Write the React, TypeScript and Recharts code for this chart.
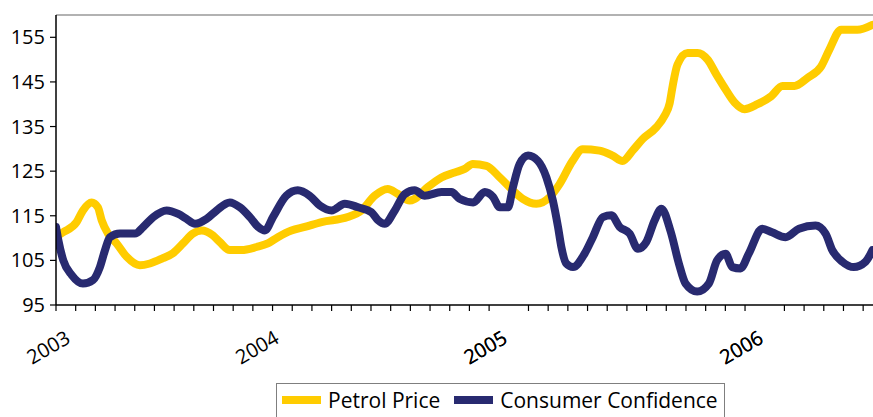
import { LineChart, Line, XAxis, YAxis, ReferenceLine, Legend } from "recharts";

// x positions are in months from the first tick (Jan 2003)
const petrolMonths = [
  0, 0.36, 1.05, 1.37, 1.81, 2.13, 2.32, 2.64, 3.08, 3.59, 4.26, 4.77, 5.43, 5.94, 6.45, 6.95,
  7.4, 7.97, 8.32, 8.83, 9.43, 10.19, 10.76, 11.27, 11.96, 12.64, 13.49, 14.82, 15.52, 16.19,
  16.85, 17.36, 17.97, 18.22, 18.88, 19.58, 20.25, 20.76, 21.17, 21.86, 22.54, 23.2, 23.71,
  24.4, 25.08, 25.58, 26.24, 26.75, 27.61, 28.27, 28.78, 29.29, 29.8, 30.49, 30.91, 31.17,
  31.32, 31.57, 32.08, 32.59, 33.1, 33.54, 33.96, 34.47, 34.97, 35.63, 36.33, 36.9, 37.51,
  38.17, 38.87, 39.29, 39.88, 40.71, 41.47,
];
const petrolPrice = [
  110.3, 111.3, 113.6, 116.2, 118.0, 116.9, 114.0, 111.0, 108.8, 105.8, 103.9, 104.3, 105.5,
  106.6, 108.8, 111.0, 111.7, 110.6, 109.1, 107.3, 107.3, 108.0, 108.8, 110.2, 111.7, 112.5,
  113.6, 114.7, 116.2, 119.5, 121.0, 119.9, 118.4, 118.8, 121.4, 123.6, 124.7, 125.5, 126.6,
  126.2, 123.6, 120.7, 118.8, 117.7, 119.2, 122.1, 127.3, 129.9, 129.6, 128.5, 127.3, 129.6,
  132.2, 134.8, 137.4, 140.2, 144.0, 148.9, 151.5, 151.5, 150.0, 146.7, 143.7, 140.4, 138.9,
  140.0, 141.8, 144.1, 144.1, 145.9, 148.5, 152.3, 156.7, 156.7, 157.8,
];

const confidenceMonths = [
  0, 0.12, 0.37, 0.8, 1.37, 1.88, 2.23, 2.49, 2.74, 3.25, 4.01, 4.43, 4.94, 5.62, 6.21, 6.63,
  7.06, 7.65, 8.16, 8.83, 9.34, 9.85, 10.27, 10.61, 11.02, 11.7, 12.28, 12.88, 13.4, 14.0,
  14.67, 15.35, 16.02, 16.36, 16.7, 17.21, 17.72, 18.22, 18.73, 19.58, 20.09, 20.5, 21.19,
  21.78, 22.2, 22.54, 22.96, 23.21, 23.55, 23.98, 24.48, 24.91, 25.24, 25.5, 25.67, 25.92,
  26.26, 26.85, 27.27, 27.78, 28.21, 28.63, 29.14, 29.56, 29.98, 30.41, 30.75, 31.22, 31.64,
  31.98, 32.57, 33.16, 33.58, 34.01, 34.35, 34.77, 35.19, 35.87, 36.37, 37.06, 37.74, 38.58,
  39.09, 39.43, 39.94, 40.52, 41.12, 41.47,
];
const confidenceIndex = [
  112.5, 109.5, 105.0, 101.7, 99.8, 100.6, 103.5, 107.3, 110.2, 111.0, 111.0, 112.5, 114.7,
  116.2, 115.4, 114.3, 113.2, 114.3, 116.2, 118.0, 116.9, 114.7, 112.5, 111.7, 114.7, 119.5,
  120.7, 119.5, 117.3, 116.2, 117.7, 116.9, 115.8, 114.0, 113.2, 116.2, 119.9, 120.7, 119.5,
  120.3, 120.3, 118.8, 118.0, 120.3, 119.2, 116.9, 116.9, 121.4, 126.6, 128.5, 127.3, 123.6,
  118.4, 112.5, 108.0, 104.3, 103.5, 106.5, 110.2, 114.7, 115.1, 112.5, 111.0, 107.6, 109.1,
  114.0, 116.6, 111.5, 104.3, 99.8, 98.0, 99.8, 105.0, 106.5, 103.5, 103.2, 106.5, 112.1,
  111.3, 110.2, 112.1, 112.8, 111.0, 107.3, 104.7, 103.5, 104.7, 107.3,
];

const seriesNames = ["Petrol Price", "Consumer Confidence"];
const yearLabels = ["2003", "2004", "2005", "2006"];
const yearLabelMonths = [0.8, 11.4, 23.0, 36.0];
const valueTicks = [95, 105, 115, 125, 135, 145, 155];
const monthTicks = Array.from({ length: 42 }, (_, i) => i);

const petrolData = petrolMonths.map((m, i) => ({ m, v: petrolPrice[i] }));
const confidenceData = confidenceMonths.map((m, i) => ({ m, v: confidenceIndex[i] }));

const FONT = "'Open Sans', sans-serif";

// one axis carries both the monthly tick marks and the rotated year labels
const MonthTick = ({ x, y, payload }: any) => {
  const yi = yearLabelMonths.indexOf(payload.value);
  if (yi >= 0) {
    const ty = y + 37;
    return (
      <text
        x={x}
        y={ty}
        textAnchor="end"
        transform={`rotate(-30, ${x}, ${ty})`}
        fontSize={20}
        fontFamily={FONT}
        fill="#000"
      >
        {yearLabels[yi]}
      </text>
    );
  }
  return <line x1={x} x2={x} y1={y} y2={y + 6} stroke="#000" strokeWidth={1.2} />;
};

const renderLegend = (props: any) => {
  const items = [...(props.payload || [])].sort(
    (a: any, b: any) => seriesNames.indexOf(a.value) - seriesNames.indexOf(b.value)
  );
  return (
    <div
      style={{
        boxSizing: "border-box",
        width: "100%",
        height: "100%",
        border: "1px solid #7f7f7f",
        background: "#fff",
        display: "flex",
        alignItems: "flex-start",
        paddingLeft: 5,
        paddingTop: 1,
        fontFamily: FONT,
        fontSize: 21,
        color: "#000",
      }}
    >
      {items.map((item: any, i: number) => (
        <div
          key={item.value}
          style={{ display: "flex", alignItems: "center", height: 30, marginLeft: i === 0 ? 0 : 14 }}
        >
          <div style={{ width: 39, height: 8, background: item.color, marginRight: 7 }} />
          <span style={{ lineHeight: "30px", whiteSpace: "nowrap" }}>{item.value}</span>
        </div>
      ))}
    </div>
  );
};

export default function App() {
  return (
    <div style={{ position: "absolute", left: 0, top: 0, background: "#fff" }}>
      <LineChart width={873} height={417} margin={{ top: 15, right: 0, left: 0, bottom: 44 }}>
        <XAxis
          xAxisId="months"
          type="number"
          dataKey="m"
          domain={[0, 41.5]}
          ticks={[...monthTicks, ...yearLabelMonths]}
          interval={0}
          tick={<MonthTick />}
          tickLine={false}
          tickSize={0}
          tickMargin={0}
          height={68}
          allowDataOverflow
          axisLine={{ stroke: "#000", strokeWidth: 1.5 }}
        />
        <YAxis
          type="number"
          domain={[95, 160]}
          ticks={valueTicks}
          width={56}
          interval={0}
          tickSize={6}
          tickMargin={5}
          allowDataOverflow
          axisLine={{ stroke: "#000", strokeWidth: 1.5 }}
          tickLine={{ stroke: "#000", strokeWidth: 1.2 }}
          tick={{ fill: "#000", fontSize: 20, fontFamily: FONT }}
        />
        <ReferenceLine xAxisId="months" y={160} stroke="#999" strokeWidth={1.5} />
        <Line
          xAxisId="months"
          data={petrolData}
          dataKey="v"
          name={seriesNames[0]}
          type="monotone"
          stroke="#ffcc00"
          strokeWidth={8}
          strokeLinecap="round"
          strokeLinejoin="round"
          dot={false}
          activeDot={false}
          isAnimationActive={false}
        />
        <Line
          xAxisId="months"
          data={confidenceData}
          dataKey="v"
          name={seriesNames[1]}
          type="monotone"
          stroke="#282a70"
          strokeWidth={8}
          strokeLinecap="round"
          strokeLinejoin="round"
          dot={false}
          activeDot={false}
          isAnimationActive={false}
        />
        <Legend
          layout="horizontal"
          verticalAlign="middle"
          align="center"
          wrapperStyle={{ left: 276, top: 383, width: 449, height: 45 }}
          content={renderLegend}
        />
      </LineChart>
    </div>
  );
}
